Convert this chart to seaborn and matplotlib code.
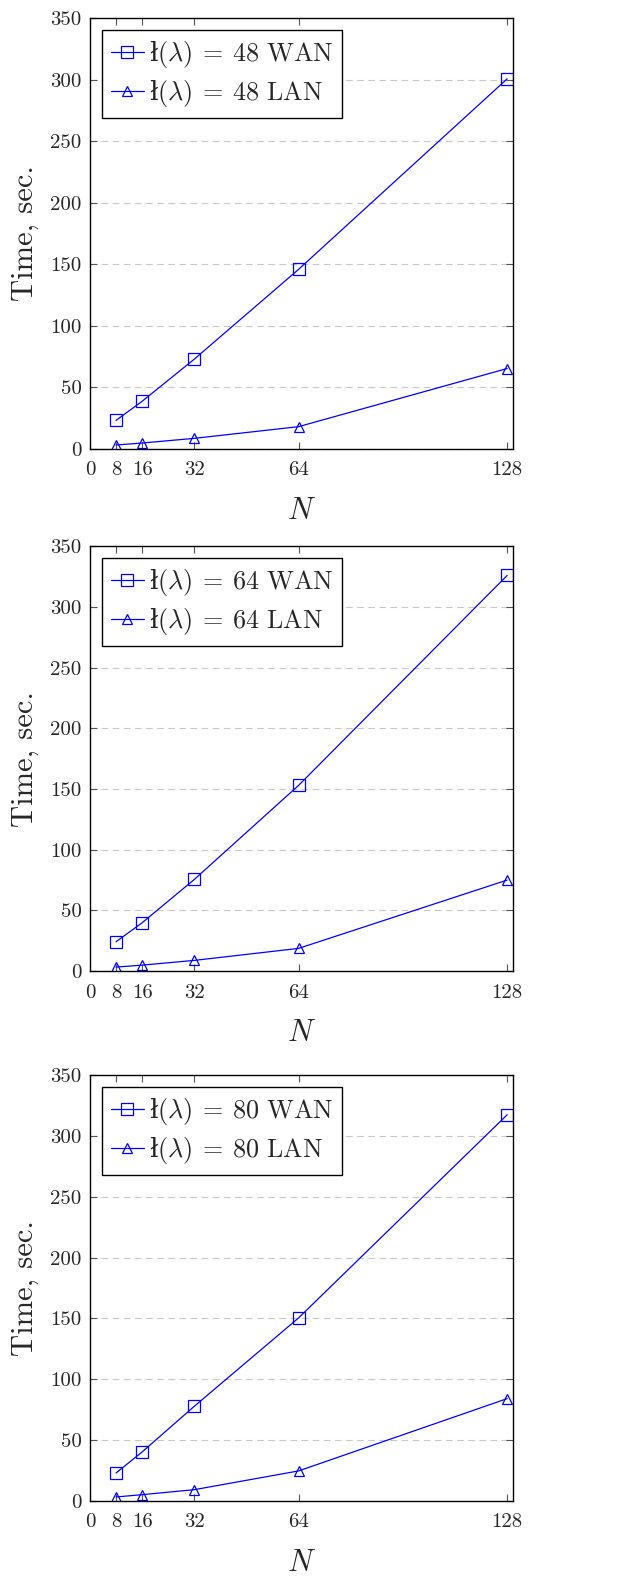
import matplotlib
matplotlib.use("Agg")
import matplotlib.pyplot as plt
import seaborn as sns
import pandas as pd

# ---- data ----
N = [8, 16, 32, 64, 128]
lam_values = [48, 64, 80]
wan_48 = [23.3, 38.8, 73.0, 145.9, 300.6]
lan_48 = [3.3, 4.9, 8.7, 18.2, 65.4]
wan_64 = [24.2, 39.8, 75.5, 153.0, 326.0]
lan_64 = [3.3, 4.9, 8.8, 18.7, 75.0]
wan_80 = [23.0, 40.3, 77.8, 150.4, 317.3]
lan_80 = [3.3, 5.2, 9.3, 24.7, 84.1]
x_ticks = [0, 8, 16, 32, 64, 128]
y_ticks = [0, 50, 100, 150, 200, 250, 300, 350]

sns.set_style("ticks")
plt.rcParams['font.family'] = ['cmr10', 'DejaVu Serif']
plt.rcParams['mathtext.fontset'] = 'cm'
plt.rcParams['axes.formatter.use_mathtext'] = True

fig = plt.figure(figsize=(6.4, 15.79), dpi=100)
positions = [
    [0.1406, 0.7156, 0.661, 0.2730],
    [0.1406, 0.3850, 0.661, 0.2690],
    [0.1406, 0.0494, 0.661, 0.2698],
]
series = [(wan_48, lan_48), (wan_64, lan_64), (wan_80, lan_80)]

for pos, lam, (wan, lan) in zip(positions, lam_values, series):
    ax = fig.add_axes(pos)
    df = pd.DataFrame({"N": N + N, "t": wan + lan,
                       "s": ["WAN"] * len(N) + ["LAN"] * len(N)})
    d_w = df[df.s == "WAN"]
    d_l = df[df.s == "LAN"]
    sns.lineplot(data=d_w, x="N", y="t", ax=ax, color="blue", lw=0.9,
                 marker="s", markersize=8, markerfacecolor="none",
                 markeredgecolor="blue", markeredgewidth=0.9,
                 label=r"ł$(\lambda)\:=\:%d\ \mathrm{WAN}$" % lam)
    sns.lineplot(data=d_l, x="N", y="t", ax=ax, color="blue", lw=0.9,
                 marker="^", markersize=6.5, markerfacecolor="none",
                 markeredgecolor="blue", markeredgewidth=0.9,
                 label=r"ł$(\lambda)\:=\:%d\ \mathrm{LAN}$" % lam)
    ax.set_xlim(0, 129.8)
    ax.set_ylim(0, 350)
    ax.set_xticks(x_ticks)
    ax.set_yticks(y_ticks)
    ax.set_xticklabels([str(v) for v in x_ticks])
    ax.set_yticklabels([str(v) for v in y_ticks])
    ax.yaxis.grid(True, linestyle=(0, (6, 4)), color="#c8c8c8", lw=0.8)
    ax.set_axisbelow(True)
    ax.tick_params(direction="in", top=True, right=True, length=5,
                   width=0.8, color="#555555", labelsize=15)
    ax.tick_params(axis="x", pad=9)
    ax.tick_params(axis="y", pad=6)
    for sp in ax.spines.values():
        sp.set_linewidth(1.0)
        sp.set_color("black")
    ax.set_xlabel(r"$N$", fontsize=22, labelpad=13)
    ax.set_ylabel("Time, sec.", fontsize=22, labelpad=8)
    leg = ax.legend(loc="upper left", bbox_to_anchor=(0.0, 1.0),
                    prop={"family": "DejaVu Serif", "size": 18.8},
                    frameon=True, fancybox=False,
                    framealpha=1, edgecolor="black", handlelength=1.25,
                    handletextpad=0.2, borderpad=0.35, labelspacing=0.3,
                    borderaxespad=0.45)
    leg.get_frame().set_linewidth(1.0)

fig.savefig("out.png", dpi=100)
